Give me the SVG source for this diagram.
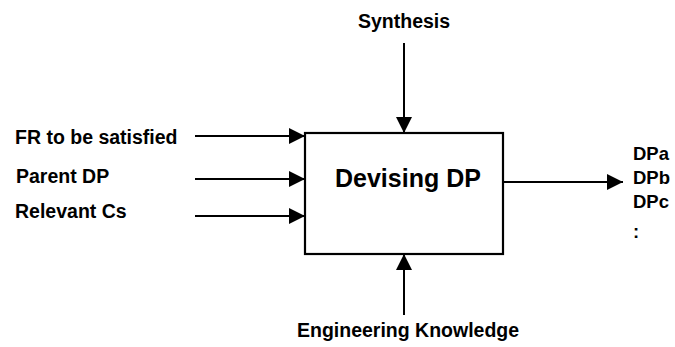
<svg xmlns="http://www.w3.org/2000/svg" width="675" height="347" viewBox="0 0 675 347">
  <style>
    text { font-family: "Liberation Sans", Arial, sans-serif; font-weight: bold; fill: #000; }
    .lbl { font-size: 19.5px; }
    .out { font-size: 18.5px; }
    .title { font-size: 25px; }
    .conn { stroke: #000; stroke-width: 2; fill: none; marker-end: url(#arrow); }
    .box { fill: #fff; stroke: #000; stroke-width: 2.2; }
  </style>
  <defs>
    <marker id="arrow" markerUnits="userSpaceOnUse" markerWidth="17" markerHeight="16" refX="16" refY="8" orient="auto">
      <path d="M0,0 L16,8 L0,16 z" fill="#000"/>
    </marker>
  </defs>
  <rect width="675" height="347" fill="#fff"/>

  <!-- process box -->
  <g id="devising-dp">
    <rect class="box" x="305" y="133" width="198" height="121"/>
    <text class="title" x="335" y="187">Devising DP</text>
  </g>

  <!-- inputs, control, mechanism, outputs -->
  <g id="fr-to-be-satisfied"><text class="lbl" x="15" y="144">FR to be satisfied</text></g>
  <g id="parent-dp"><text class="lbl" x="16" y="183">Parent DP</text></g>
  <g id="relevant-cs"><text class="lbl" x="15" y="218">Relevant Cs</text></g>
  <g id="synthesis"><text class="lbl" x="358" y="28">Synthesis</text></g>
  <g id="engineering-knowledge"><text class="lbl" x="297" y="337">Engineering Knowledge</text></g>
  <g id="outputs">
    <text class="out" x="633" y="160">DPa</text>
    <text class="out" x="633" y="184">DPb</text>
    <text class="out" x="633" y="208">DPc</text>
    <text class="out" x="633" y="238">:</text>
  </g>

  <g id="connectors">
    <line class="conn" x1="195" y1="136" x2="305" y2="136"/>
    <line class="conn" x1="195" y1="179" x2="305" y2="179"/>
    <line class="conn" x1="195" y1="216" x2="305" y2="216"/>
    <line class="conn" x1="404" y1="43" x2="404" y2="133"/>
    <line class="conn" x1="404" y1="315" x2="404" y2="254"/>
    <line class="conn" x1="503" y1="182" x2="623" y2="182"/>
  </g>
</svg>
